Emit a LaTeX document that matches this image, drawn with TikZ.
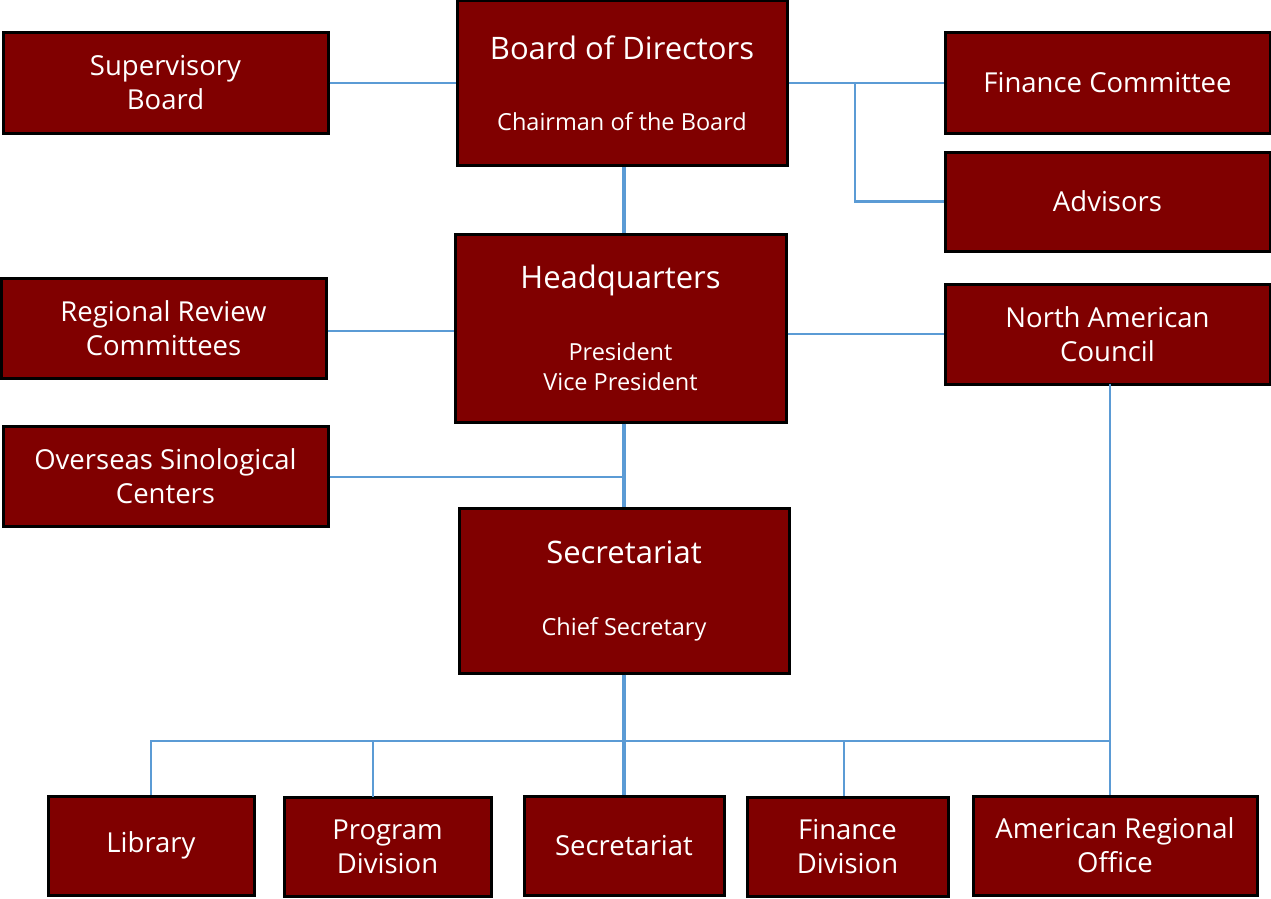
\documentclass[tikz,border=0pt]{standalone}
\usepackage{fontspec}
\setmainfont{Open Sans}
\usetikzlibrary{positioning}
\definecolor{boxred}{HTML}{800000}
\definecolor{linkblue}{HTML}{5B9BD5}
\newcommand{\bigline}{\fontsize{31}{38}\selectfont}
\newcommand{\subline}{\fontsize{23.5}{30}\selectfont}

\begin{document}
\begin{tikzpicture}[x=1pt,y=-1pt,
  unit/.style={draw=black,line width=3pt,fill=boxred,text=white,align=center,
    minimum width=325pt,minimum height=100pt,inner sep=0pt,
    font=\fontsize{27.5}{34}\selectfont},
  office/.style={unit,minimum width=330pt,minimum height=165pt},
  small/.style={unit,minimum width=206pt,minimum height=99pt},
  link/.style={draw=linkblue,line width=2.5pt},
  main link/.style={draw=linkblue,line width=4.5pt}]

  \useasboundingbox (0,0) rectangle (1271,899);

  % top level
  \node[office] (bod) at (622,83) {\bigline Board of Directors\\[37pt]\subline Chairman of the Board};
  \node[unit] (sup) at (165.5,83) {Supervisory\\Board};
  \node[unit] (fin) at (1107.5,83) {Finance Committee};
  \node[unit,minimum height=99pt] (adv) at (1107.5,201.5) {Advisors};

  % headquarters
  \node[office,minimum width=331pt,minimum height=188pt] (hq) at (620.5,328) {\bigline Headquarters\\[38pt]\subline President\\[-4pt]\subline Vice President};
  \node[unit] (rrc) at (163.5,328.5) {Regional Review\\Committees};
  \node[unit] (nac) at (1107.5,334) {North American\\Council};
  \node[unit] (osc) at (165.5,476) {Overseas Sinological\\Centers};

  % secretariat
  \node[office] (sec) at (624,590.5) {\bigline Secretariat\\[38pt]\subline Chief Secretary};

  % divisions
  \node[small] (lib) at (151,845.5) {Library};
  \node[small,minimum width=207pt] (prog) at (387.5,846.5) {Program\\Division};
  \node[small,minimum width=200pt] (sec2) at (624,845.5) {Secretariat};
  \node[small,minimum width=201pt] (findiv) at (847.5,846.5) {Finance\\Division};
  \node[small,minimum width=284pt] (aro) at (1115,845.5) {American Regional\\Office};

  \coordinate (bus) at (624,741);
  \coordinate (split) at (855,83);
  \coordinate (progtop) at (373,797);
  \coordinate (nacdrop) at (1110,384);

  % connectors
  \path[link] (sup.east) -- (bod.west);
  \path[link] (bod.east) -- (fin.west);
  \path[link] (split) |- (adv.west);
  \path[link] (rrc.east |- 0,331) -- (hq.west |- 0,331);
  \path[link] (hq.east |- 0,334) -- (nac.west |- 0,334);
  \path[link] (osc.east |- 0,477) -- (624,477);
  \path[main link] (bod.south -| 624,0) -- (hq.north -| 624,0);
  \path[main link] (hq.south -| 624,0) -- (sec.north);
  \path[main link] (sec.south) -- (sec2.north);
  \path[link] (lib.north) -- (lib.north |- bus) -- (nacdrop |- bus);
  \path[link] (progtop) -- (progtop |- bus);
  \path[link] (findiv.north -| 844,0) -- (844,741);
  \path[link] (nacdrop) -- (nacdrop |- aro.north);

\end{tikzpicture}
\end{document}
